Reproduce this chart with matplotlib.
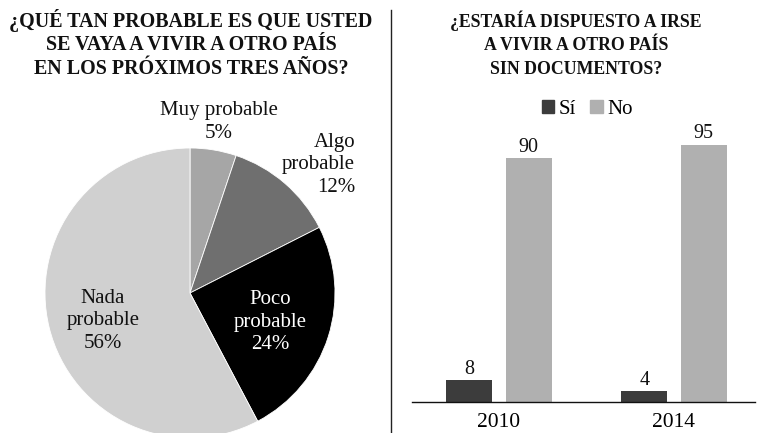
import matplotlib
matplotlib.use("Agg")
import matplotlib.pyplot as plt
from matplotlib.patches import Patch
from matplotlib.lines import Line2D

plt.rcParams['font.family'] = ['Liberation Serif', 'DejaVu Serif']

# Pie data
pie_labels = ["Muy probable", "Algo\nprobable", "Poco\nprobable", "Nada\nprobable"]
pie_values = [5, 12, 24, 56]
pie_colors = ["#a6a6a6", "#6f6f6f", "#000000", "#d0d0d0"]

# Bar data
years = ["2010", "2014"]
si_values = [8, 4]
no_values = [90, 95]
series_names = ["Sí", "No"]
bar_colors = ["#3c3c3c", "#b0b0b0"]

W, H = 758, 433
fig = plt.figure(figsize=(W / 100, H / 100), dpi=100)

def fx(px):
    return px / W

def fy(py):
    return 1 - py / H

# Titles
title_left = ["¿QUÉ TAN PROBABLE ES QUE USTED", "SE VAYA A VIVIR A OTRO PAÍS", "EN LOS PRÓXIMOS TRES AÑOS?"]
title_right = ["¿ESTARÍA DISPUESTO A IRSE", "A VIVIR A OTRO PAÍS", "SIN DOCUMENTOS?"]
for i, t in enumerate(title_left):
    fig.text(fx(191), fy(21 + 24 * i), t, ha="center", va="center", fontsize=14.4, fontweight="bold", color="#111111")
for i, t in enumerate(title_right):
    fig.text(fx(576), fy(21 + 24 * i), t, ha="center", va="center", fontsize=12.8, fontweight="bold", color="#111111")

# Divider
fig.add_artist(Line2D([fx(391), fx(391)], [fy(10), fy(433)], color="#222222", lw=1.0, transform=fig.transFigure))

# Pie
cx, cy, r = 190, 293, 145
axp = fig.add_axes([fx(cx - r), fy(cy + r), (2 * r) / W, (2 * r) / H])
wedges, _ = axp.pie(pie_values, colors=pie_colors, startangle=90, counterclock=False,
                    radius=1.0, wedgeprops=dict(edgecolor="white", linewidth=0.6))
axp.set_xlim(-1, 1)
axp.set_ylim(-1, 1)
axp.set_aspect("auto")
axp.axis("off")

def to_data(px, py):
    return ((px - cx) / r, (cy - py) / r)

lab_pos = [(219, 122, "center"), (355, 165, "right"), (270, 322, "center"), (103, 321, "center")]
lab_col = ["#111111", "#111111", "white", "#111111"]
for lab, v, (px, py, ha), col in zip(pie_labels, pie_values, lab_pos, lab_col):
    x, y = to_data(px, py)
    axp.text(x, y, f"{lab}\n{v}%", ha=ha, va="center", fontsize=15, color=col,
             linespacing=1.28, clip_on=False)

# Bars
axb = fig.add_axes([fx(412), fy(402), fx(755) - fx(412), (402 - 131) / H])
xs = list(range(len(years)))
bw = 0.263
off = 0.169
b1 = axb.bar([x - off for x in xs], si_values, width=bw, color=bar_colors[0])
b2 = axb.bar([x + off for x in xs], no_values, width=bw, color=bar_colors[1])
for bars, vals in ((b1, si_values), (b2, no_values)):
    for b, v in zip(bars, vals):
        axb.text(b.get_x() + b.get_width() / 2, v + 0.4, str(v), ha="center", va="bottom", fontsize=14.5, color="#111111")
axb.set_xlim(-0.497, 1.463)
axb.set_ylim(0, 100)
axb.set_xticks(xs)
axb.set_xticklabels(years, fontsize=15.5)
axb.tick_params(axis="x", length=0, pad=8)
axb.set_yticks([])
for s in ("top", "right", "left"):
    axb.spines[s].set_visible(False)
axb.spines["bottom"].set_color("#111111")
axb.spines["bottom"].set_linewidth(1.0)

handles = [Patch(color=c) for c in bar_colors]
fig.legend(handles, series_names, loc="center", bbox_to_anchor=(fx(587), fy(109)), ncol=2, frameon=False,
           fontsize=15, handlelength=0.6, handleheight=0.6, handletextpad=0.2, columnspacing=0.7)

fig.savefig("out.png", dpi=100)
